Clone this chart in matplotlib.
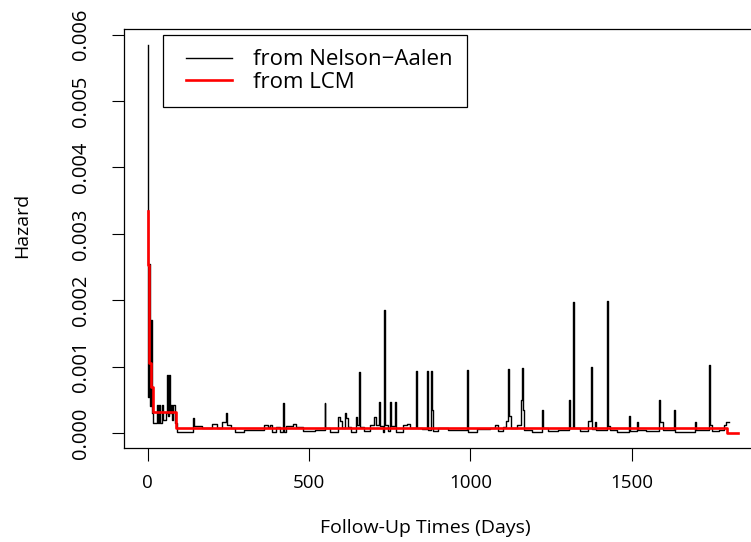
import matplotlib
matplotlib.use("Agg")
import matplotlib.pyplot as plt
from matplotlib.legend_handler import HandlerLine2D

plt.rcParams['font.family'] = ['Open Sans', 'DejaVu Sans']

# Nelson-Aalen hazard (step function, value holds until next time)
na_time = [0, 1.5, 5, 7, 12, 14, 18, 28, 32, 36, 40, 44, 48, 56, 61, 63, 66, 68,
           72, 76, 80, 84, 90, 140, 143, 170, 200, 215, 232, 244, 247, 258, 270,
           300, 340, 360, 372, 380, 385, 398, 410, 418, 421, 430, 450, 460, 480,
           520, 548, 551, 565, 590, 596, 602, 612, 616, 622, 630, 645, 649, 656,
           659, 670, 690, 700, 706, 716, 719, 728, 733, 736, 745, 750, 753, 765,
           768, 790, 805, 812, 830, 833, 850, 864, 867, 878, 881, 884, 900, 930,
           990, 993, 1020, 1060, 1075, 1085, 1100, 1110, 1117, 1120, 1127, 1145,
           1158, 1161, 1164, 1167, 1190, 1222, 1225, 1240, 1270, 1305, 1308,
           1318, 1321, 1340, 1365, 1372, 1375, 1385, 1390, 1424, 1427, 1432,
           1455, 1490, 1493, 1515, 1520, 1545, 1583, 1586, 1595, 1630, 1633,
           1660, 1695, 1700, 1740, 1743, 1748, 1770, 1785, 1790, 1800]
na_haz = [0.00584, 0.00054, 0.00255, 0.00040, 0.00170, 0.00030, 0.00015,
          0.00042, 0.00015, 0.00042, 0.00015, 0.00042, 0.00020, 0.00030,
          0.00087, 0.00025, 0.00087, 0.00030, 0.00042, 0.00020, 0.00042,
          0.00015, 0.00001, 0.00022, 0.00011, 0.00007, 0.00014, 0.00008,
          0.00016, 0.00030, 0.00012, 0.00007, 0.00002, 0.00005, 0.00004,
          0.00012, 0.00009, 0.00012, 0.00002, 0.00009, 0.00002, 0.00045,
          0.00002, 0.00011, 0.00014, 0.00009, 0.00003, 0.00005, 0.00045,
          0.00007, 0.00002, 0.00024, 0.00018, 0.00008, 0.00030, 0.00022,
          0.00009, 0.00002, 0.00024, 0.00012, 0.00092, 0.00009, 0.00003,
          0.00012, 0.00024, 0.00012, 0.00046, 0.00010, 0.00002, 0.00185,
          0.00012, 0.00003, 0.00046, 0.00010, 0.00046, 0.00002, 0.00012,
          0.00014, 0.00007, 0.00094, 0.00008, 0.00006, 0.00094, 0.00005,
          0.00094, 0.00035, 0.00003, 0.00007, 0.00005, 0.00095, 0.00002,
          0.00006, 0.00008, 0.00012, 0.00003, 0.00009, 0.00018, 0.00097,
          0.00025, 0.00007, 0.00012, 0.00050, 0.00098, 0.00034, 0.00004,
          0.00002, 0.00034, 0.00008, 0.00003, 0.00004, 0.00050, 0.00008,
          0.00197, 0.00008, 0.00003, 0.00018, 0.00100, 0.00006, 0.00016,
          0.00004, 0.00199, 0.00011, 0.00004, 0.00002, 0.00025, 0.00003,
          0.00017, 0.00004, 0.00003, 0.00050, 0.00017, 0.00005, 0.00035,
          0.00002, 0.00002, 0.00017, 0.00004, 0.00102, 0.00012, 0.00003,
          0.00005, 0.00012, 0.00017, 0.00017]

# LCM hazard (piecewise constant)
lcm_time = [0, 2, 5, 10, 17, 88, 1795, 1828]
lcm_haz = [0.00335, 0.00253, 0.00105, 0.00070, 0.00032, 0.000075, 0.000005, 0.000005]

x_ticks = [0, 500, 1000, 1500]
y_ticks = [0.000, 0.001, 0.002, 0.003, 0.004, 0.005, 0.006]

fig = plt.figure(figsize=(7.51, 5.42), dpi=100)
# plot region runs past the right edge of the picture
ax = fig.add_axes([124/751, 1 - 448/542, 638/751, 419/542])

ax.step(na_time, na_haz, where='post', color='black', lw=1.0,
        label='from Nelson\u2212Aalen')
ax.step(lcm_time, lcm_haz, where='post', color='red', lw=1.9,
        label='from LCM')

ax.set_xlim(-73, 1903)
ax.set_ylim(-0.000226, 0.006086)
ax.set_xticks(x_ticks)
ax.set_xticklabels([str(v) for v in x_ticks])
ax.set_yticks(y_ticks)
ax.set_yticklabels(['%.3f' % v for v in y_ticks], rotation=90, va='center')
ax.tick_params(direction='out', length=9, width=0.8)
ax.tick_params(axis='x', labelsize=13.5, pad=10)
ax.tick_params(axis='y', labelsize=14.5, pad=15)
for s in ax.spines.values():
    s.set_linewidth(0.9)

ax.set_xlabel('Follow-Up Times (Days)', fontsize=14)
ax.set_ylabel('Hazard', fontsize=14)
ax.xaxis.set_label_coords((425 - 124) / 638, -(528 - 448) / 419)
ax.yaxis.set_label_coords((22 - 124) / 638, (448 - 225) / 419)
ax.xaxis.label.set_va('center')
ax.yaxis.label.set_va('center')

hmap = {l: HandlerLine2D(xpad=0.39) for l in ax.get_lines()}
leg = ax.legend(loc='upper left', bbox_to_anchor=((163 - 124) / 638, 1 - (35 - 29) / 419),
                borderaxespad=0, fontsize=16, frameon=True, fancybox=False,
                framealpha=1, edgecolor='black', handlelength=2.45,
                handletextpad=0.95, labelspacing=0.07, borderpad=0.65,
                handler_map=hmap)
leg.get_frame().set_linewidth(0.9)

fig.savefig('out.png', dpi=100)
